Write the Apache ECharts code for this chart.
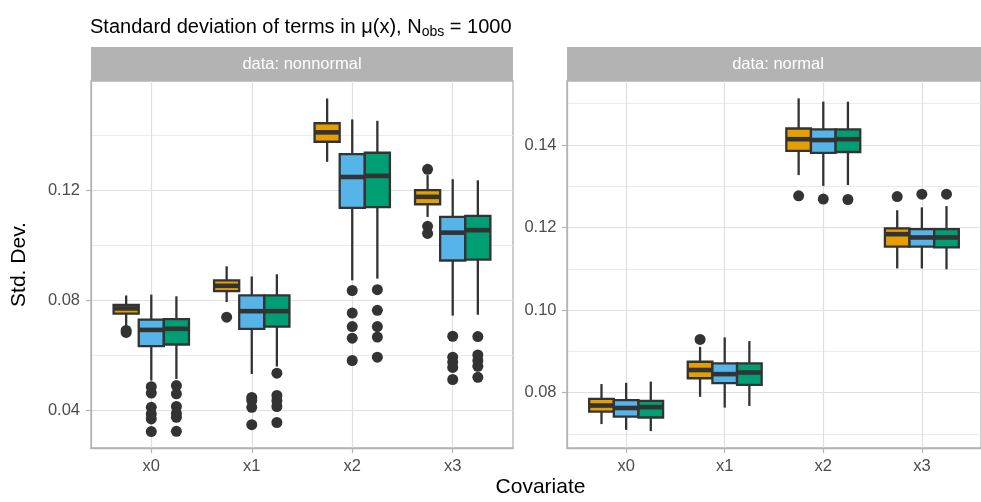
<!DOCTYPE html>
<html>
<head>
<meta charset="utf-8">
<script src="https://cdn.jsdelivr.net/npm/echarts@6/dist/echarts.min.js"></script>
<style>
html,body{margin:0;padding:0;background:#fff;}
#chart{width:981px;height:502px;}
</style>
</head>
<body>
<div id="chart"></div>
<script>
// ---------- data ----------
const categories = ['x0', 'x1', 'x2', 'x3'];
const panelNames = ['data: nonnormal', 'data: normal'];
const groupColors = ['#E69F00', '#56B4E9', '#009E73'];

const yTicksNonnormal = [0.04, 0.08, 0.12];
const yMinorNonnormal = [0.06, 0.10, 0.14];
const yTicksNormal = [0.08, 0.10, 0.12, 0.14];
const yMinorNormal = [0.07, 0.09, 0.11, 0.13, 0.15];

// [lower whisker, Q1, median, Q3, upper whisker] per covariate
const nonnormalG1 = [
  [0.0705, 0.0752, 0.0771, 0.0784, 0.0818],
  [0.0794, 0.0834, 0.0853, 0.0873, 0.0924],
  [0.1303, 0.1376, 0.1410, 0.1443, 0.1533],
  [0.1103, 0.1149, 0.1176, 0.1200, 0.1255]
];
const nonnormalG1Out = [[0.0691, 0.0684], [0.0739], [], [0.1276, 0.1069, 0.1043]];

const nonnormalG2 = [
  [0.0509, 0.0634, 0.0693, 0.0730, 0.0821],
  [0.0533, 0.0697, 0.0761, 0.0818, 0.0887],
  [0.0873, 0.1136, 0.1248, 0.1331, 0.1457],
  [0.0745, 0.0945, 0.1046, 0.1103, 0.1240]
];
const nonnormalG2Out = [
  [0.0487, 0.0464, 0.0412, 0.0388, 0.0370, 0.0324],
  [0.0448, 0.0437, 0.0412, 0.0349],
  [0.0836, 0.0754, 0.0705, 0.0663, 0.0582],
  [0.0670, 0.0594, 0.0576, 0.0557, 0.0513]
];

const nonnormalG3 = [
  [0.0515, 0.0640, 0.0697, 0.0732, 0.0815],
  [0.0560, 0.0705, 0.0761, 0.0818, 0.0895],
  [0.0879, 0.1139, 0.1252, 0.1336, 0.1452],
  [0.0748, 0.0948, 0.1055, 0.1107, 0.1236]
];
const nonnormalG3Out = [
  [0.0491, 0.0461, 0.0415, 0.0390, 0.0376, 0.0325],
  [0.0536, 0.0455, 0.0436, 0.0415, 0.0357],
  [0.0839, 0.0764, 0.0705, 0.0667, 0.0594],
  [0.0669, 0.0602, 0.0582, 0.0561, 0.0521]
];

const normalG1 = [
  [0.0724, 0.0754, 0.0769, 0.0785, 0.0821],
  [0.0790, 0.0835, 0.0855, 0.0875, 0.0911],
  [0.1327, 0.1386, 0.1414, 0.1440, 0.1513],
  [0.1101, 0.1154, 0.1184, 0.1198, 0.1242]
];
const normalG1Out = [[], [0.0929], [0.1277], [0.1275]];

const normalG2 = [
  [0.0710, 0.0742, 0.0763, 0.0782, 0.0824],
  [0.0764, 0.0823, 0.0845, 0.0871, 0.0934],
  [0.1301, 0.1381, 0.1412, 0.1438, 0.1505],
  [0.1101, 0.1154, 0.1176, 0.1196, 0.1249]
];
const normalG2Out = [[], [], [0.1269], [0.1281]];

const normalG3 = [
  [0.0707, 0.0740, 0.0765, 0.0780, 0.0827],
  [0.0768, 0.0819, 0.0849, 0.0871, 0.0925],
  [0.1303, 0.1383, 0.1414, 0.1438, 0.1505],
  [0.1099, 0.1152, 0.1176, 0.1196, 0.1252]
];
const normalG3Out = [[], [], [0.1268], [0.1281]];

// ---------- build ----------
const FONT = '"Liberation Sans", Arial, Helvetica, sans-serif';
const DODGE = 0.25;
const BORDER = '#b3b3b3';

function boxData(groups) {
  const out = [];
  groups.forEach((g, gi) => g.forEach((s, ci) => out.push([ci, gi].concat(s))));
  return out;
}
function outlierData(groups) {
  const out = [];
  groups.forEach((g, gi) => g.forEach((vals, ci) =>
    vals.forEach(v => out.push([ci + (gi - 1) * DODGE, v]))));
  return out;
}

function renderBox(params, api) {
  const cat = api.value(0), g = api.value(1);
  const unit = api.size([1, 0])[0];
  const w = unit * DODGE;
  const cx = api.coord([cat, api.value(4)])[0] + (g - 1) * w;
  const yy = i => api.coord([cat, api.value(i)])[1];
  const yl = yy(2), yq1 = yy(3), ym = yy(4), yq3 = yy(5), yh = yy(6);
  const stroke = '#333333';
  return {
    type: 'group',
    children: [
      {type: 'line', shape: {x1: cx, y1: yh, x2: cx, y2: yq3}, style: {stroke, lineWidth: 2.3}},
      {type: 'line', shape: {x1: cx, y1: yq1, x2: cx, y2: yl}, style: {stroke, lineWidth: 2.3}},
      {type: 'rect', shape: {x: cx - w / 2, y: yq3, width: w, height: yq1 - yq3},
        style: {fill: groupColors[g], stroke, lineWidth: 2.3}},
      {type: 'line', shape: {x1: cx - w / 2, y1: ym, x2: cx + w / 2, y2: ym}, style: {stroke, lineWidth: 4.6}}
    ]
  };
}

const gridTop = 81, gridH = 367;
const grids = [
  {left: 91, top: gridTop, width: 422, height: gridH},
  {left: 567, top: gridTop, width: 422, height: gridH}
].map(g => Object.assign(g, {show: true, borderColor: BORDER, borderWidth: 1.3, backgroundColor: '#fff', containLabel: false}));

function xAxisFor(gi) {
  return {
    type: 'value', gridIndex: gi, min: -0.6, max: 3.6, position: 'bottom',
    axisLine: {show: true, onZero: false, lineStyle: {color: BORDER, width: 1.3}},
    axisTick: {show: true, length: 5, lineStyle: {color: BORDER, width: 1.2}, customValues: [0, 1, 2, 3]},
    axisLabel: {show: true, customValues: [0, 1, 2, 3], formatter: v => categories[Math.round(v)],
      color: '#4d4d4d', fontSize: 16.5, fontFamily: FONT, margin: 10},
    splitLine: {show: true, lineStyle: {color: '#e0e0e0', width: 1.2}}
  };
}
function yAxisMajor(gi, min, max, ticks, margin) {
  return {
    type: 'value', gridIndex: gi, min, max, position: 'left',
    axisLine: {show: true, onZero: false, lineStyle: {color: BORDER, width: 1.3}},
    axisTick: {show: true, length: 5, lineStyle: {color: BORDER, width: 1.2}, customValues: ticks},
    axisLabel: {show: true, customValues: ticks, formatter: v => v.toFixed(2),
      color: '#4d4d4d', fontSize: 16.5, fontFamily: FONT, margin},
    splitLine: {show: true, lineStyle: {color: '#e0e0e0', width: 1.2}}
  };
}
function yAxisMinor(gi, min, max, ticks) {
  return {
    type: 'value', gridIndex: gi, min, max, position: 'left',
    axisLine: {show: false, onZero: false},
    axisTick: {show: false, customValues: ticks},
    axisLabel: {show: false, customValues: ticks},
    splitLine: {show: true, lineStyle: {color: '#ebebeb', width: 1}}
  };
}

const nnMin = 0.02644, nnMax = 0.15964;
const nMin = 0.06661, nMax = 0.15550;

const option = {
  animation: false,
  backgroundColor: '#ffffff',
  title: {
    left: 85, top: 6,
    text: '{a|Standard deviation of terms in μ(x), N}{b|obs}{a| = 1000}',
    textStyle: {
      fontWeight: 'normal',
      rich: {
        a: {fontSize: 20, fontWeight: 'normal', fontFamily: FONT, color: '#000', lineHeight: 26, verticalAlign: 'bottom'},
        b: {fontSize: 14, fontWeight: 'normal', fontFamily: FONT, color: '#000', lineHeight: 14, verticalAlign: 'bottom', padding: [0, 0, -2, 0]}
      }
    }
  },
  grid: grids,
  xAxis: [xAxisFor(0), xAxisFor(1)],
  yAxis: [
    yAxisMajor(0, nnMin, nnMax, yTicksNonnormal, 11),
    yAxisMinor(0, nnMin, nnMax, yMinorNonnormal),
    yAxisMajor(1, nMin, nMax, yTicksNormal, 10.5),
    yAxisMinor(1, nMin, nMax, yMinorNormal)
  ],
  series: [
    {type: 'custom', xAxisIndex: 0, yAxisIndex: 0, renderItem: renderBox,
      encode: {x: 0, y: [2, 3, 4, 5, 6]}, z: 3,
      data: boxData([nonnormalG1, nonnormalG2, nonnormalG3])},
    {type: 'scatter', xAxisIndex: 0, yAxisIndex: 0, symbol: 'circle', symbolSize: 11, z: 4,
      itemStyle: {color: '#333333', opacity: 1},
      data: outlierData([nonnormalG1Out, nonnormalG2Out, nonnormalG3Out])},
    {type: 'custom', xAxisIndex: 1, yAxisIndex: 2, renderItem: renderBox,
      encode: {x: 0, y: [2, 3, 4, 5, 6]}, z: 3,
      data: boxData([normalG1, normalG2, normalG3])},
    {type: 'scatter', xAxisIndex: 1, yAxisIndex: 2, symbol: 'circle', symbolSize: 11, z: 4,
      itemStyle: {color: '#333333', opacity: 1},
      data: outlierData([normalG1Out, normalG2Out, normalG3Out])}
  ],
  graphic: [
    {type: 'rect', shape: {x: 91, y: 47, width: 422, height: 34}, style: {fill: BORDER}, z: 10},
    {type: 'rect', shape: {x: 567, y: 47, width: 422, height: 34}, style: {fill: BORDER}, z: 10},
    {type: 'text', x: 302, y: 64.5, z: 11, style: {text: panelNames[0], fill: '#ffffff', font: '16.5px ' + FONT, align: 'center', verticalAlign: 'middle'}},
    {type: 'text', x: 778, y: 64.5, z: 11, style: {text: panelNames[1], fill: '#ffffff', font: '16.5px ' + FONT, align: 'center', verticalAlign: 'middle'}},
    {type: 'text', x: 19, y: 264.5, rotation: Math.PI / 2, z: 11, style: {text: 'Std. Dev.', fill: '#000', font: '21px ' + FONT, align: 'center', verticalAlign: 'middle'}},
    {type: 'text', x: 540.5, y: 487.5, z: 11, style: {text: 'Covariate', fill: '#000', font: '21px ' + FONT, align: 'center', verticalAlign: 'middle'}}
  ]
};

const chart = echarts.init(document.getElementById('chart'), null, {renderer: 'canvas'});
chart.setOption(option);
</script>
</body>
</html>
